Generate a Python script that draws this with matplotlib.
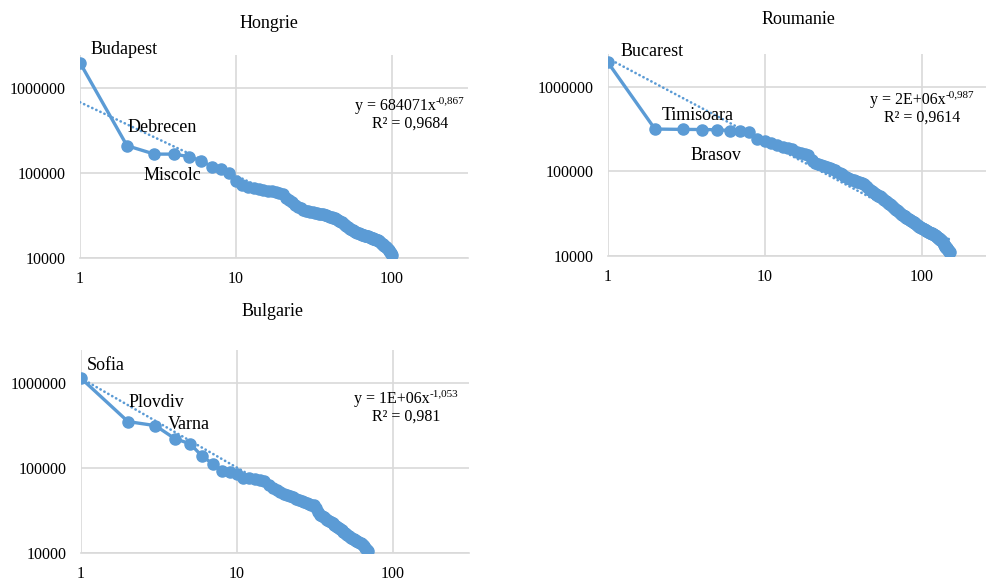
import numpy as np
import matplotlib
matplotlib.use("Agg")
import matplotlib.pyplot as plt
from matplotlib.ticker import FixedLocator, NullLocator

plt.rcParams['font.family'] = ['Liberation Serif', 'DejaVu Serif']

BLUE = '#5B9BD5'
GRID = '#d9d9d9'

# city populations, ordered by rank
hongrie = [2000000, 210000, 167000, 167000, 156000, 139000, 119000, 110000, 101000, 80000,
           73000, 69000, 67000, 65000, 63000, 61500, 60500, 59500, 58500, 56000,
           51000, 48000, 45000, 42000, 40000, 38500, 37000, 36000, 35200, 34700,
           34300, 33900, 33500, 33100, 32800, 32500, 32000, 31500, 31000, 30500,
           30100, 29800, 29200, 28600, 28000, 27300, 26700, 26100, 25300, 24500,
           23800, 23000, 22400, 22000, 21500, 21000, 20600, 20200, 19900, 19600,
           19400, 19100, 18900, 18700, 18500, 18300, 18200, 18000, 17900, 17800,
           17600, 17400, 17300, 17100, 16900, 16800, 16600, 16400, 16300, 16200,
           16000, 15800, 15600, 15300, 15000, 14700, 14400, 14100, 13900, 13700,
           13400, 13200, 12900, 12600, 12300, 12000, 11700, 11400, 11100, 10800]

roumanie = [1980000, 318000, 315000, 314000, 312000, 305000, 302000, 295000, 240000, 230000,
            215000, 205000, 195000, 188000, 182000, 172000, 166000, 162000, 158000, 135000,
            126000, 122000, 118000, 115000, 112000, 109000, 106000, 103000, 99000, 95000,
            92000, 89000, 86000, 84000, 82000, 80000, 78500, 77000, 75500, 74000,
            73000, 72500, 71000, 68000, 65000, 62500, 60500, 58500, 57000, 55500,
            54000, 52500, 51500, 50500, 49500, 48500, 47500, 46300, 45000, 43800,
            42700, 41600, 40600, 39700, 38800, 38000, 37100, 36200, 35300, 34400,
            33500, 32600, 31800, 31200, 30700, 30200, 29700, 29200, 28700, 28200,
            27700, 27300, 26900, 26500, 26200, 25900, 25600, 25300, 25000, 24600,
            24200, 23800, 23400, 23000, 22700, 22400, 22100, 21800, 21500, 21300,
            21100, 20900, 20700, 20500, 20300, 20100, 19900, 19700, 19500, 19300,
            19100, 18900, 18700, 18600, 18500, 18400, 18300, 18200, 18000, 17800,
            17600, 17400, 17200, 17000, 16800, 16600, 16400, 16200, 16000, 15800,
            15600, 15400, 15200, 15000, 14800, 14500, 14200, 13900, 13600, 13300,
            13000, 12800, 12600, 12400, 12200, 12000, 11800, 11600, 11400, 11200,
            11000]

bulgarie = [1150000, 355000, 318000, 223000, 195000, 138000, 113000, 93000, 90000, 86000,
            78000, 76000, 75000, 73500, 70000, 64000, 58000, 55000, 52500, 50500,
            48500, 47000, 45500, 44000, 42500, 41000, 39800, 38800, 38000, 37500,
            37000, 34000, 31000, 28500, 27500, 26500, 25500, 24700, 24000, 23200,
            22500, 21800, 21200, 20600, 20000, 19300, 18600, 18000, 17400, 16900,
            16400, 16000, 15600, 15200, 14900, 14600, 14300, 14100, 13900, 13700,
            13400, 13100, 12800, 12500, 12100, 11700, 11300, 10900, 10500]

# power trend lines (coefficient, exponent)
trend_hu = (684071, -0.867)
trend_ro = (2.2e6, -0.987)
trend_bg = (1.15e6, -1.053)

eq_hu = ("y = 684071x", "-0,867", "R² = 0,9684")
eq_ro = ("y = 2E+06x", "-0,987", "R² = 0,9614")
eq_bg = ("y = 1E+06x", "-1,053", "R² = 0,981")

W, H = 986, 579
fig = plt.figure(figsize=(W / 100, H / 100), dpi=100)
renderer = fig.canvas.get_renderer()


def px_axes(left, right, top, bottom):
    return fig.add_axes([left / W, 1 - bottom / H, (right - left) / W, (bottom - top) / H])


def ptext(x, y, s, **kw):
    return fig.text(x / W, 1 - y / H, s, **kw)


def setup(ax):
    ax.set_xscale('log')
    ax.set_yscale('log')
    ax.set_xlim(1, 307)
    ax.set_ylim(1e4, 2.47e6)
    ax.xaxis.set_major_locator(FixedLocator([1, 10, 100]))
    ax.yaxis.set_major_locator(FixedLocator([1e4, 1e5, 1e6]))
    ax.xaxis.set_minor_locator(NullLocator())
    ax.yaxis.set_minor_locator(NullLocator())
    ax.set_xticklabels(['1', '10', '100'])
    ax.set_yticklabels(['10000', '100000', '1000000'])
    ax.tick_params(length=0, labelsize=11.5)
    ax.tick_params(axis='x', pad=9.5)
    ax.tick_params(axis='y', pad=10)
    ax.grid(True, color=GRID, linewidth=1.2)
    ax.set_axisbelow(True)
    for s in ['top', 'right', 'left']:
        ax.spines[s].set_visible(False)
    ax.spines['bottom'].set_color(GRID)
    ax.spines['bottom'].set_linewidth(1.2)


def draw(ax, values, trend):
    x = np.arange(1, len(values) + 1)
    xt = np.linspace(1, len(values), 300)
    ax.plot(xt, trend[0] * xt ** trend[1], color=BLUE, linewidth=1.9,
            linestyle=(0, (0.1, 1.6)), dash_capstyle='round', zorder=2)
    ax.plot(x, values, color=BLUE, linewidth=2.4, marker='o', markersize=8, zorder=3)


def equation(cx, cy, eq):
    # first line: main text + superscript, centred together
    main = ptext(0, 0, eq[0], fontsize=11.5, ha='left', va='center')
    sup = ptext(0, 0, eq[1], fontsize=8, ha='left', va='center')
    wm = main.get_window_extent(renderer).width
    ws = sup.get_window_extent(renderer).width
    x0 = cx - (wm + ws) / 2
    y1 = cy - 9
    main.set_position((x0 / W, 1 - y1 / H))
    sup.set_position(((x0 + wm) / W, 1 - (y1 - 5) / H))
    ptext(cx, cy + 9, eq[2], fontsize=11.5, ha='center', va='center')


ax1 = px_axes(80, 468, 55, 257.7)
setup(ax1)
draw(ax1, hongrie, trend_hu)
ptext(269, 24, "Hongrie", fontsize=13, ha='center', va='center')
ptext(90.7, 50, "Budapest", fontsize=13, va='center')
ptext(127.7, 128, "Debrecen", fontsize=13, va='center')
ptext(144, 175, "Miscolc", fontsize=13, va='center')
equation(410, 115, eq_hu)

ax2 = px_axes(607.7, 998, 54, 255.7)
setup(ax2)
draw(ax2, roumanie, trend_ro)
ptext(798, 20, "Roumanie", fontsize=13, ha='center', va='center')
ptext(620.7, 51.7, "Bucarest", fontsize=13, va='center')
ptext(662, 115, "Timisoara", fontsize=13, va='center')
ptext(690.7, 155, "Brasov", fontsize=13, va='center')
equation(922, 108.7, eq_ro)

ax3 = px_axes(81, 469, 350, 553.3)
setup(ax3)
draw(ax3, bulgarie, trend_bg)
ptext(273, 311.7, "Bulgarie", fontsize=13, ha='center', va='center')
ptext(86.7, 366, "Sofia", fontsize=13, va='center')
ptext(129, 402.7, "Plovdiv", fontsize=13, va='center')
ptext(167.7, 424.3, "Varna", fontsize=13, va='center')
equation(406.5, 407.8, eq_bg)

fig.savefig("out.png", dpi=100)
